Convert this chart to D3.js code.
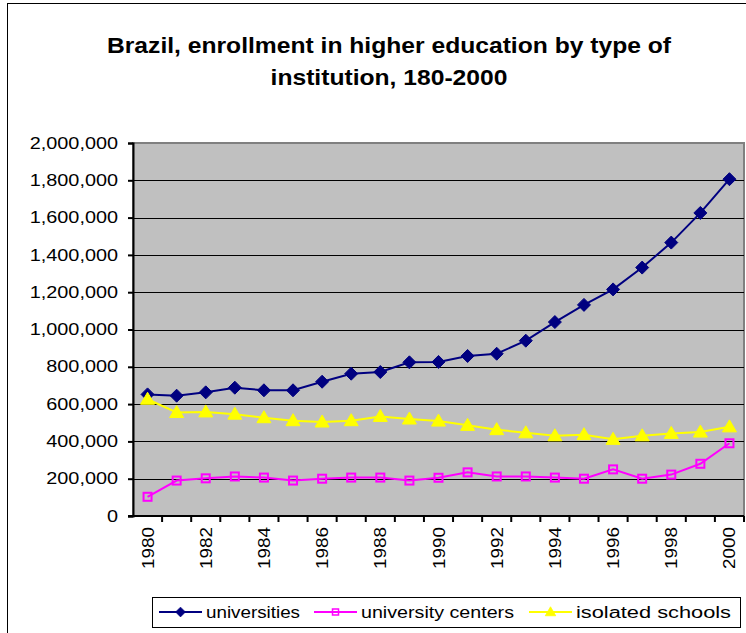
<!DOCTYPE html>
<html>
<head>
<meta charset="utf-8">
<script src="https://cdn.jsdelivr.net/npm/d3@7"></script>
<style>
  html, body { margin: 0; padding: 0; background: #fff; }
  svg { display: block; }
  text { font-family: "Liberation Sans", Arial, sans-serif; }
</style>
</head>
<body>
<svg id="chart" width="746" height="633"></svg>
<script>
const years = ["1980","1981","1982","1983","1984","1985","1986","1987","1988","1989","1990",
               "1991","1992","1993","1994","1995","1996","1997","1998","1999","2000"];
const universities = [652000, 645000, 663000, 688000, 674000, 674000, 720000, 763000, 772000, 824000, 826000,
                      858000, 870000, 940000, 1040000, 1132000, 1215000, 1332000, 1466000, 1625000, 1806000];
const universityCenters = [103000, 190000, 202000, 212000, 206000, 190000, 200000, 206000, 206000, 190000, 205000,
                           234000, 212000, 212000, 206000, 200000, 250000, 200000, 222000, 280000, 390000];
const isolatedSchools = [626000, 555000, 558000, 546000, 527000, 511000, 504000, 511000, 534000, 520000, 509000,
                         486000, 463000, 446000, 430000, 436000, 411000, 430000, 443000, 450000, 478000];
const yTicks = [0, 200000, 400000, 600000, 800000, 1000000, 1200000, 1400000, 1600000, 1800000, 2000000];
const xLabels = ["1980","1982","1984","1986","1988","1990","1992","1994","1996","1998","2000"];
const seriesNames = ["universities", "university centers", "isolated schools"];
const titleLines = ["Brazil, enrollment in higher education by type of", "institution, 180-2000"];

const svg = d3.select("#chart");
const fmt = d3.format(",");

// widen text horizontally to mimic the reference's stretched rendering
function stretch(sel, factor) {
  sel.each(function() {
    const w = this.getComputedTextLength();
    d3.select(this).attr("textLength", w * factor).attr("lengthAdjust", "spacingAndGlyphs");
  });
}

// outer chart border
svg.append("rect").attr("x", 7.5).attr("y", 3.5).attr("width", 760).attr("height", 660)
  .attr("fill", "none").attr("stroke", "#000").attr("stroke-width", 1);

// title
const tt = svg.append("g").selectAll("text").data(titleLines).join("text")
  .attr("x", 389).attr("y", (d, i) => 53 + i * 32)
  .attr("text-anchor", "middle").attr("font-size", 22).attr("font-weight", "bold")
  .text(d => d);
stretch(tt, 1.12);

const L = 133, R = 744, T = 143, B = 516;
const x = d3.scaleBand().domain(years).range([L, R]);
const y = d3.scaleLinear().domain([0, 2000000]).range([B, T]);

// plot area
svg.append("rect").attr("x", L).attr("y", T).attr("width", R - L).attr("height", B - T)
  .attr("fill", "#c0c0c0").attr("stroke", "#808080").attr("stroke-width", 2);

// gridlines
svg.append("g").selectAll("line").data(yTicks.filter(d => d > 0 && d < 2000000)).join("line")
  .attr("x1", L).attr("x2", R).attr("y1", d => Math.round(y(d)) + 0.5).attr("y2", d => Math.round(y(d)) + 0.5)
  .attr("stroke", "#000").attr("stroke-width", 1);

// y axis
const yAxis = d3.axisLeft(y).tickValues(yTicks).tickFormat(d => fmt(d)).tickSize(5).tickPadding(10);
const gy = svg.append("g").attr("transform", `translate(${L},0)`).call(yAxis);
gy.select(".domain").attr("stroke", "#000").attr("stroke-width", 2);
gy.selectAll(".tick line").attr("stroke", "#000").attr("stroke-width", 2);
const yt = gy.selectAll("text").attr("font-size", 16).attr("fill", "#000")
  .attr("font-family", "'Liberation Sans', Arial, sans-serif");
stretch(yt, 1.24);

// x axis: ticks at category boundaries
const gx = svg.append("g").attr("transform", `translate(0,${B})`);
gx.append("line").attr("x1", L - 5).attr("x2", R).attr("y1", 0).attr("y2", 0)
  .attr("stroke", "#000").attr("stroke-width", 2);
gx.selectAll("line.tk").data(years).join("line").attr("class", "tk")
  .attr("x1", d => x(d) + x.bandwidth()).attr("x2", d => x(d) + x.bandwidth())
  .attr("y1", 0).attr("y2", 6).attr("stroke", "#000").attr("stroke-width", 2);
const xt = gx.selectAll("text").data(xLabels).join("text")
  .attr("transform", d => `translate(${x(d) + x.bandwidth() / 2 + 6},11) rotate(-90)`)
  .attr("text-anchor", "end").attr("font-size", 16).text(d => d);
stretch(xt, 1.18);

// lines
const cx = d => x(d) + x.bandwidth() / 2;
const series = [
  { name: seriesNames[0], values: universities, color: "#000080", marker: "diamond" },
  { name: seriesNames[1], values: universityCenters, color: "#ff00ff", marker: "square" },
  { name: seriesNames[2], values: isolatedSchools, color: "#ffff00", marker: "triangle" }
];
const line = d3.line().x((d, i) => cx(years[i])).y(d => y(d));

function drawMarker(g, type, color) {
  if (type === "diamond") {
    g.append("path").attr("d", "M0,-6.5L6.5,0L0,6.5L-6.5,0Z").attr("fill", color).attr("stroke", color).attr("stroke-width", 1);
  } else if (type === "square") {
    g.append("rect").attr("x", -4).attr("y", -4).attr("width", 8).attr("height", 8)
      .attr("fill", "none").attr("stroke", color).attr("stroke-width", 2);
  } else {
    g.append("path").attr("d", "M0,-7L7,5L-7,5Z").attr("fill", color).attr("stroke", color).attr("stroke-width", 1);
  }
}

series.forEach(s => {
  svg.append("path").datum(s.values).attr("d", line)
    .attr("fill", "none").attr("stroke", s.color).attr("stroke-width", 2);
});
series.forEach(s => {
  svg.append("g").selectAll("g").data(s.values).join("g")
    .attr("transform", (d, i) => `translate(${cx(years[i])},${y(d)})`)
    .each(function() { drawMarker(d3.select(this), s.marker, s.color); });
});

// legend
const lg = svg.append("g");
lg.append("rect").attr("x", 152.5).attr("y", 597.5).attr("width", 588).attr("height", 30)
  .attr("fill", "#fff").attr("stroke", "#000").attr("stroke-width", 1);
const legendX = [159, 314, 529];
const legendTextW = [94, 153, 155];
series.forEach((s, i) => {
  const g = lg.append("g").attr("transform", `translate(${legendX[i]},612)`);
  g.append("line").attr("x1", 0).attr("x2", 43).attr("stroke", s.color).attr("stroke-width", 2);
  const m = g.append("g").attr("transform", "translate(21.5,0) scale(0.75)");
  drawMarker(m, s.marker, s.color);
  g.append("text").attr("x", 47).attr("y", 6).attr("font-size", 16)
    .attr("textLength", legendTextW[i]).attr("lengthAdjust", "spacingAndGlyphs").text(s.name);
});
</script>
</body>
</html>
